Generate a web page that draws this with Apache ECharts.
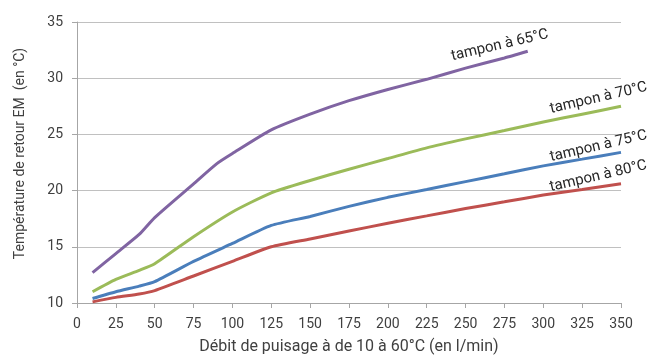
<!DOCTYPE html>
<html>
<head>
<meta charset="utf-8">
<script src="https://cdn.jsdelivr.net/npm/echarts@6/dist/echarts.min.js"></script>
<style>
  html, body { margin: 0; padding: 0; background: #fff; }
  #chart { width: 652px; height: 358px; }
</style>
</head>
<body>
<div id="chart"></div>
<script>
// flow (l/min) and return temperature (°C)
const flow65 = [10, 25, 40, 50, 75, 90, 100, 125, 150, 175, 200, 225, 250, 275, 290];
const temp65 = [12.7, 14.4, 16.1, 17.6, 20.6, 22.4, 23.3, 25.4, 26.8, 28.0, 29.0, 29.9, 30.9, 31.8, 32.4];

const flowOther = [10, 25, 40, 50, 75, 100, 125, 150, 175, 200, 225, 250, 275, 300, 325, 350];
const temp70 = [11.0, 12.1, 12.9, 13.5, 15.9, 18.1, 19.8, 20.9, 21.9, 22.85, 23.8, 24.6, 25.35, 26.1, 26.8, 27.5];
const temp75 = [10.4, 11.0, 11.5, 11.9, 13.7, 15.3, 16.9, 17.7, 18.6, 19.4, 20.1, 20.8, 21.5, 22.2, 22.8, 23.4];
const temp80 = [10.1, 10.5, 10.8, 11.1, 12.4, 13.7, 15.0, 15.7, 16.4, 17.1, 17.75, 18.4, 19.0, 19.6, 20.1, 20.6];

const seriesNames = ['tampon à 65°C', 'tampon à 70°C', 'tampon à 75°C', 'tampon à 80°C'];
const COLORS = ['#8064a2', '#9bbb59', '#4a7ebb', '#c0504d'];
const FONT = 'Roboto';
const TEXT = '#404040';

const pairs = (xs, ys) => xs.map((x, i) => [x, ys[i]]);

// label offsets are in the rotated frame of the label
const lines = [
  { data: pairs(flow65, temp65), offset: [-26, -12] },
  { data: pairs(flowOther, temp70), offset: [-20, -13] },
  { data: pairs(flowOther, temp75), offset: [-20.5, -11] },
  { data: pairs(flowOther, temp80), offset: [-20.5, -12.5] }
];

const chart = echarts.init(document.getElementById('chart'));

chart.setOption({
  animation: false,
  color: COLORS,
  textStyle: { fontFamily: FONT, color: TEXT },
  grid: { left: 77, right: 31, top: 22, bottom: 55, outerBoundsMode: 'none' },
  xAxis: {
    type: 'value',
    min: 0, max: 350, interval: 25,
    name: 'Débit de puisage à de 10 à 60°C (en l/min)',
    nameLocation: 'middle',
    nameGap: 36,
    nameTextStyle: { fontSize: 16, color: TEXT, fontFamily: FONT },
    axisLine: { lineStyle: { color: '#a6a6a6' } },
    axisTick: { show: true, length: 5, lineStyle: { color: '#a6a6a6' } },
    axisLabel: { fontSize: 14, color: TEXT, margin: 14, fontFamily: FONT },
    splitLine: { show: false }
  },
  yAxis: {
    type: 'value',
    min: 10, max: 35, interval: 5,
    name: 'Température de retour EM  (en °C)',
    nameLocation: 'middle',
    nameGap: 50,
    nameTextStyle: { fontSize: 14, color: TEXT, fontFamily: FONT, padding: [0, 0, 0, 18] },
    axisLine: { show: true, lineStyle: { color: '#a6a6a6' } },
    axisTick: { show: true, length: 5, lineStyle: { color: '#a6a6a6' } },
    axisLabel: { fontSize: 14, color: TEXT, margin: 14, fontFamily: FONT },
    splitLine: { show: true, lineStyle: { color: '#c0c0c0' } }
  },
  series: lines.map((l, i) => ({
    name: seriesNames[i],
    type: 'line',
    data: l.data,
    smooth: 0.2,
    showSymbol: false,
    lineStyle: { width: 3, color: COLORS[i] },
    markPoint: {
      symbol: 'circle',
      symbolSize: 0,
      data: [{
        coord: l.data[l.data.length - 1],
        label: {
          show: true,
          position: 'inside',
          formatter: seriesNames[i],
          rotate: 13,
          offset: l.offset,
          fontSize: 15,
          color: '#262626',
          fontFamily: FONT
        }
      }]
    }
  }))
});
</script>
</body>
</html>
